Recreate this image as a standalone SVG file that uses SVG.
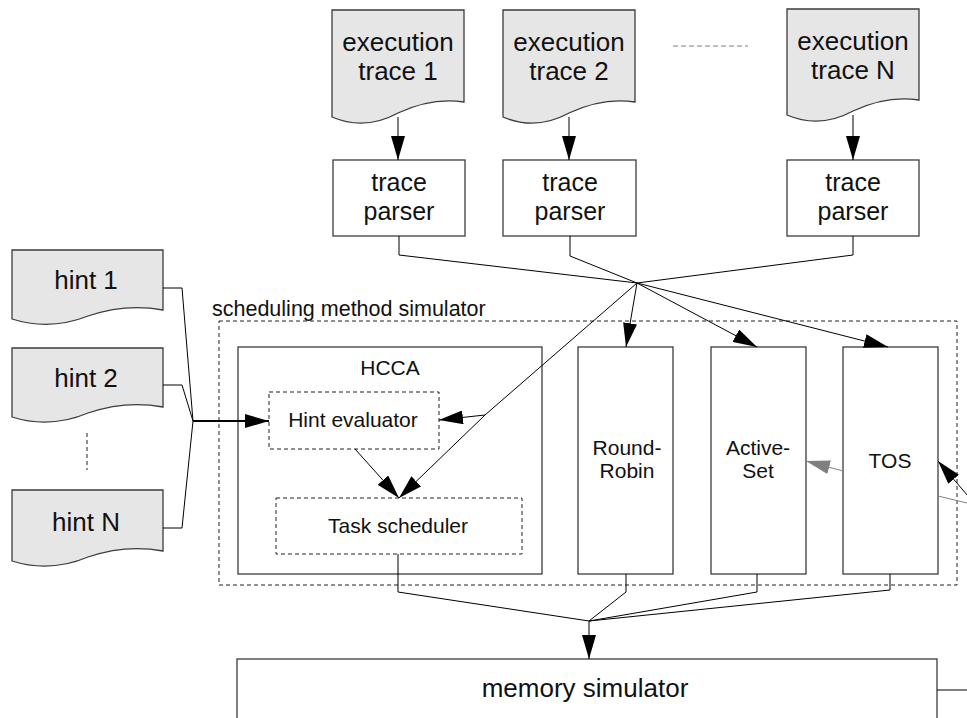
<svg xmlns="http://www.w3.org/2000/svg" width="967" height="718" viewBox="0 0 967 718">
  <defs>
    <style>
      .box { fill: #ffffff; stroke: #3c3c3c; stroke-width: 1.3; }
      .doc { fill: #e6e6e6; stroke: #3c3c3c; stroke-width: 1.3; }
      .sub { fill: #ffffff; stroke: #222222; stroke-width: 1; stroke-dasharray: 4 3; }
      .frame { fill: none; stroke: #222222; stroke-width: 1; stroke-dasharray: 4 3; }
      .wire { fill: none; stroke: #000000; stroke-width: 1; }
      .thick { fill: none; stroke: #000000; stroke-width: 2; }
      .gwire { fill: none; stroke: #808080; stroke-width: 1; }
      .ellipsis { fill: none; stroke: #808080; stroke-width: 1; stroke-dasharray: 5 3; }
      .vdots { fill: none; stroke: #222222; stroke-width: 1; stroke-dasharray: 4 3; }
      text { font-family: "Liberation Sans", Arial, sans-serif; fill: #111111; text-anchor: middle; }
      .big { font-size: 26px; }
      .mid { font-size: 25px; }
      .small { font-size: 21px; }
      .caption { font-size: 21.5px; text-anchor: start; }
    </style>
    <marker id="arrow" markerUnits="userSpaceOnUse" markerWidth="24" markerHeight="14" refX="24" refY="7" orient="auto">
      <path d="M0,0 L24,7 L0,14 Z" fill="#000000"/>
    </marker>
    <marker id="arrow-gray" markerUnits="userSpaceOnUse" markerWidth="24" markerHeight="14" refX="24" refY="7" orient="auto">
      <path d="M0,0 L24,7 L0,14 Z" fill="#808080"/>
    </marker>
  </defs>

  <!-- scheduling method simulator frame -->
  <g id="simulator-frame">
    <rect class="frame" x="219" y="321" width="738" height="264"/>
    <text class="caption" x="212" y="316">scheduling method simulator</text>
  </g>

  <!-- execution traces -->
  <g id="trace1">
    <path class="doc" d="M332,10 H464 V102 Q432,97 398,113 Q365,131 332,117 Z"/>
    <text class="big" x="398" y="51">execution</text>
    <text class="big" x="398" y="80">trace 1</text>
  </g>
  <g id="trace2">
    <path class="doc" d="M503,10 H635 V102 Q603,97 569,113 Q536,131 503,117 Z"/>
    <text class="big" x="569" y="51">execution</text>
    <text class="big" x="569" y="80">trace 2</text>
  </g>
  <g id="traceN">
    <path class="doc" d="M787,9 H919 V100 Q887,95 853,111 Q820,129 787,115 Z"/>
    <text class="big" x="853" y="50">execution</text>
    <text class="big" x="853" y="79">trace N</text>
  </g>
  <g id="trace-ellipsis">
    <line class="ellipsis" x1="673" y1="46" x2="748" y2="46"/>
  </g>

  <!-- trace parsers -->
  <g id="parser1">
    <rect class="box" x="333" y="160" width="132" height="76"/>
    <text class="mid" x="399" y="191">trace</text>
    <text class="mid" x="399" y="220">parser</text>
  </g>
  <g id="parser2">
    <rect class="box" x="503" y="160" width="133" height="76"/>
    <text class="mid" x="570" y="191">trace</text>
    <text class="mid" x="570" y="220">parser</text>
  </g>
  <g id="parserN">
    <rect class="box" x="787" y="160" width="132" height="76"/>
    <text class="mid" x="853" y="191">trace</text>
    <text class="mid" x="853" y="220">parser</text>
  </g>

  <!-- hints -->
  <g id="hint1">
    <path class="doc" d="M12,250 H163 V310 Q126,303 88,316 Q50,331 12,319 Z"/>
    <text class="big" x="86" y="289">hint 1</text>
  </g>
  <g id="hint2">
    <path class="doc" d="M12,348 H163 V407 Q126,400 88,413 Q50,429 12,417 Z"/>
    <text class="big" x="86" y="387">hint 2</text>
  </g>
  <g id="hint-ellipsis">
    <line class="vdots" x1="87" y1="433" x2="87" y2="470"/>
  </g>
  <g id="hintN">
    <path class="doc" d="M12,490 H163 V551 Q126,544 88,557 Q50,573 12,561 Z"/>
    <text class="big" x="86" y="531">hint N</text>
  </g>

  <!-- HCCA -->
  <g id="hcca">
    <rect class="box" x="238" y="347" width="304" height="227"/>
    <text class="small" x="390" y="375">HCCA</text>
  </g>
  <g id="hint-evaluator">
    <rect class="sub" x="269" y="392" width="170" height="57"/>
    <text class="small" x="353" y="427">Hint evaluator</text>
  </g>
  <g id="task-scheduler">
    <rect class="sub" x="276" y="498" width="246" height="56"/>
    <text class="small" x="398" y="533">Task scheduler</text>
  </g>

  <!-- other scheduling methods -->
  <g id="round-robin">
    <rect class="box" x="578" y="347" width="95" height="227"/>
    <text class="small" x="627" y="455">Round-</text>
    <text class="small" x="627" y="478">Robin</text>
  </g>
  <g id="active-set">
    <rect class="box" x="711" y="347" width="95" height="227"/>
    <text class="small" x="758" y="455">Active-</text>
    <text class="small" x="758" y="478">Set</text>
  </g>
  <g id="tos">
    <rect class="box" x="843" y="347" width="95" height="227"/>
    <text class="small" x="890" y="468">TOS</text>
  </g>

  <!-- memory simulator -->
  <g id="memory-simulator">
    <rect class="box" x="237" y="659" width="700" height="80"/>
    <text class="big" x="585" y="697">memory simulator</text>
  </g>

  <!-- connectors -->
  <g id="connectors">
    <!-- traces into parsers -->
    <line class="wire" x1="398" y1="117" x2="398" y2="160" marker-end="url(#arrow)"/>
    <line class="wire" x1="569" y1="117" x2="569" y2="160" marker-end="url(#arrow)"/>
    <line class="wire" x1="853" y1="115" x2="853" y2="160" marker-end="url(#arrow)"/>

    <!-- parsers merge -->
    <polyline class="wire" points="399,236 399,255 637,283"/>
    <polyline class="wire" points="570,236 570,256 637,283"/>
    <polyline class="wire" points="853,236 853,255 637,283"/>

    <!-- fan out to schedulers -->
    <line class="wire" x1="637" y1="283" x2="626" y2="347" marker-end="url(#arrow)"/>
    <line class="wire" x1="637" y1="283" x2="757" y2="347" marker-end="url(#arrow)"/>
    <line class="wire" x1="637" y1="283" x2="888" y2="347" marker-end="url(#arrow)"/>
    <polyline class="wire" points="637,283 485,415 399,498" marker-end="url(#arrow)"/>
    <line class="wire" x1="485" y1="415" x2="439" y2="420" marker-end="url(#arrow)"/>
    <line class="wire" x1="355" y1="449" x2="399" y2="498" marker-end="url(#arrow)"/>

    <!-- hints merge -->
    <polyline class="wire" points="163,288 182,288 193,421"/>
    <polyline class="wire" points="163,385 182,385 193,421"/>
    <polyline class="wire" points="163,528 182,528 193,421"/>
    <line class="thick" x1="193" y1="421" x2="269" y2="421" marker-end="url(#arrow)"/>

    <!-- TOS side links -->
    <line class="gwire" x1="843" y1="471" x2="806" y2="461" marker-end="url(#arrow-gray)"/>
    <line class="wire" x1="968" y1="496" x2="938" y2="461" marker-end="url(#arrow)"/>
    <line class="gwire" x1="938" y1="496" x2="967" y2="503"/>

    <!-- schedulers into memory simulator -->
    <polyline class="wire" points="398,554 398,592 589,621"/>
    <polyline class="wire" points="626,574 626,592 589,621"/>
    <polyline class="wire" points="757,574 757,592 589,621"/>
    <polyline class="wire" points="890,574 890,590 589,621"/>
    <line class="wire" x1="589" y1="621" x2="589" y2="659" marker-end="url(#arrow)"/>
    <line class="wire" x1="937" y1="690" x2="967" y2="690"/>
  </g>
</svg>
